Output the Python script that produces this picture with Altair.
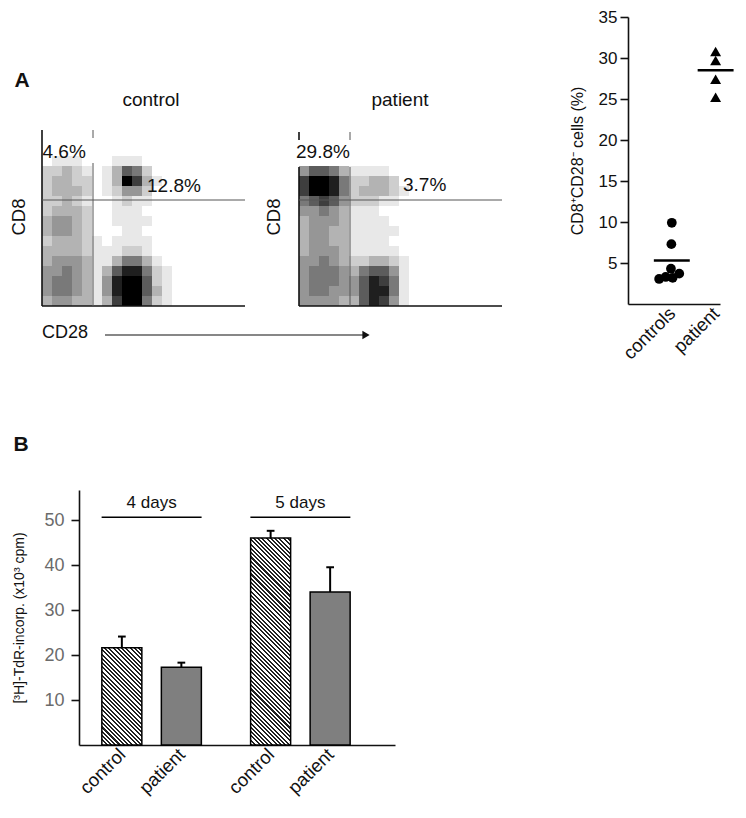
import math
import json
import altair as alt
import pandas as pd

FONT = "Liberation Sans"
INK = "#111111"

# ---------------- Panel A: flow cytometry (density) ----------------
# rows from the top row down to row 0, columns of equal width starting at the CD8 axis
control_density = [
    [0, 1, 1, 1, 0, 0, 0, 1, 1, 1, 0, 0, 0],
    [2, 2, 3, 2, 1, 0, 1, 3, 6, 5, 2, 0, 0],
    [2, 3, 3, 2, 2, 0, 1, 3, 9, 7, 3, 1, 0],
    [2, 3, 3, 3, 2, 0, 1, 2, 4, 4, 2, 0, 0],
    [2, 2, 3, 2, 1, 0, 0, 1, 2, 1, 1, 0, 0],
    [2, 3, 3, 3, 2, 0, 0, 1, 1, 1, 0, 0, 0],
    [3, 4, 4, 3, 2, 0, 0, 1, 1, 1, 1, 0, 0],
    [3, 4, 4, 3, 2, 0, 0, 0, 1, 1, 0, 0, 0],
    [2, 3, 3, 3, 2, 1, 0, 1, 1, 1, 1, 0, 0],
    [3, 3, 3, 3, 2, 1, 1, 1, 2, 2, 1, 0, 0],
    [3, 4, 4, 4, 3, 1, 1, 3, 5, 5, 3, 1, 0],
    [4, 4, 5, 4, 3, 1, 3, 6, 8, 8, 5, 2, 1],
    [4, 5, 5, 4, 3, 1, 4, 8, 9, 9, 6, 2, 1],
    [4, 5, 5, 4, 3, 1, 4, 8, 9, 9, 6, 3, 1],
    [3, 4, 4, 3, 3, 1, 3, 7, 9, 9, 5, 2, 1],
]
patient_density = [
    [4, 6, 6, 5, 3, 1, 1, 1, 1, 0, 0],
    [7, 9, 9, 8, 5, 2, 2, 3, 3, 2, 0],
    [7, 9, 9, 8, 5, 2, 3, 3, 3, 2, 1],
    [5, 6, 7, 6, 4, 2, 2, 2, 1, 1, 0],
    [4, 4, 5, 4, 3, 1, 1, 1, 0, 0, 0],
    [3, 4, 4, 4, 3, 1, 1, 1, 1, 0, 0],
    [3, 4, 4, 3, 3, 1, 1, 1, 1, 1, 0],
    [3, 4, 4, 3, 3, 1, 1, 1, 1, 0, 0],
    [3, 4, 4, 4, 3, 1, 1, 1, 1, 1, 0],
    [4, 4, 5, 4, 3, 2, 2, 3, 3, 2, 1],
    [4, 5, 5, 5, 4, 3, 5, 6, 6, 4, 1],
    [4, 5, 5, 5, 4, 4, 6, 8, 7, 5, 1],
    [4, 5, 5, 4, 4, 4, 6, 8, 8, 5, 1],
    [4, 4, 4, 4, 3, 3, 6, 8, 7, 4, 1],
]
flow_titles = ["control", "patient"]
flow_pct_upper_left = ["4.6%", "29.8%"]
flow_pct_upper_right = ["12.8%", "3.7%"]
gate_cd28 = 5.1
gate_cd8 = 10.6
flow_top = 17.6
flow_right = 20.3

# ---------------- Panel A: summary dot plot ----------------
controls_pct = [9.9, 7.3, 4.3, 3.7, 3.3, 3.2, 3.05]
controls_jitter = [0.0, -0.01, -0.02, 0.17, -0.14, 0.02, -0.29]
patient_pct = [30.8, 29.7, 27.4, 25.2]
group_names = ["controls", "patient"]
group_means = [5.3, 28.5]

# ---------------- Panel B: proliferation ----------------
bar_labels = ["control", "patient", "control", "patient"]
bar_pos = [1.0, 2.0, 3.5, 4.5]
bar_vals = [21.6, 17.3, 46.0, 34.0]
bar_err_top = [24.1, 18.3, 47.6, 39.5]
bar_hatched = [True, False, True, False]
day_labels = ["4 days", "5 days"]
day_centers = [1.5, 4.0]
day_line_y = 50.6
day_text_y = 53.8

# ======================================================================
FLOW_H = 28.9


def density_frame(rows):
    top = len(rows) - 1
    recs = []
    for i, row in enumerate(rows):
        j = top - i
        for c, d in enumerate(row):
            if d > 0:
                recs.append(dict(x=c, x2=c + 1, y=j, y2=j + 1, d=d))
    return pd.DataFrame(recs)


def flow_chart(rows, width_units, segs, texts, extra=None):
    xs = alt.Scale(domain=[0, width_units], nice=False, zero=False)
    ys = alt.Scale(domain=[0, FLOW_H], nice=False, zero=False)
    X = lambda f: alt.X(f, type="quantitative", scale=xs, axis=None)
    Y = lambda f: alt.Y(f, type="quantitative", scale=ys, axis=None)
    dens = alt.Chart(density_frame(rows)).mark_rect(color="black", strokeWidth=0).encode(
        x=X("x"), x2="x2", y=Y("y"), y2="y2",
        opacity=alt.Opacity("d:Q", scale=alt.Scale(type="pow", exponent=1.1, domain=[0, 9], range=[0, 1.0]),
                            legend=None),
    )
    seg_df = pd.DataFrame(segs, columns=["x", "x2", "y", "y2", "w", "c"])
    lines = alt.Chart(seg_df).mark_rule().encode(
        x=X("x"), x2="x2", y=Y("y"), y2="y2",
        strokeWidth=alt.StrokeWidth("w:Q", scale=None),
        color=alt.Color("c:N", scale=None),
    )
    layers = [dens, lines]
    for t in texts:
        df = pd.DataFrame([dict(x=t["x"], y=t["y"], t=t["text"])])
        layers.append(
            alt.Chart(df).mark_text(
                fontSize=t.get("size", 19), align=t.get("align", "center"), baseline="middle",
                angle=t.get("angle", 0), fontWeight=t.get("weight", "normal"), color=INK, font=FONT,
            ).encode(x=X("x"), y=Y("y"), text="t:N")
        )
    if extra:
        layers += extra(X, Y)
    return alt.layer(*layers).properties(width=width_units * 10, height=FLOW_H * 10)


AX = "#111111"
GATE = "#555555"
control_segs = [
    (0, 0, 0, flow_top, 1.6, AX),
    (0, flow_right, 0, 0, 1.6, AX),
    (gate_cd28, gate_cd28, 0, 14.3, 1.0, GATE),
    (gate_cd28, gate_cd28, 16.8, flow_top, 1.0, GATE),
    (0, flow_right, gate_cd8, gate_cd8, 1.0, GATE),
]
patient_segs = [
    (0, 0, 0, 13.9, 1.6, AX),
    (0, 0, 16.6, 17.4, 1.6, AX),
    (0, flow_right, 0, 0, 1.6, AX),
    (gate_cd28, gate_cd28, 0, 13.9, 1.0, GATE),
    (gate_cd28, gate_cd28, 16.6, 17.4, 1.0, GATE),
    (0, flow_right, gate_cd8, gate_cd8, 1.0, GATE),
]


def cd28_arrow(X, Y):
    arrow = pd.DataFrame([dict(x=6.3, x2=32.4, y=-2.9)])
    line = alt.Chart(arrow).mark_rule(color=INK, strokeWidth=1.2).encode(x=X("x"), x2="x2", y=Y("y"))
    head = alt.Chart(arrow).mark_point(shape="triangle-right", filled=True, size=70, color=INK, opacity=1).encode(
        x=X("x2"), y=Y("y"))
    return [line, head]


flowC = flow_chart(
    control_density, 20.3, control_segs,
    [
        dict(x=-2.0, y=22.5, text="A", size=21, weight="bold"),
        dict(x=10.9, y=20.6, text=flow_titles[0]),
        dict(x=0.05, y=15.4, text=flow_pct_upper_left[0], align="left"),
        dict(x=10.5, y=12.0, text=flow_pct_upper_right[0], align="left"),
        dict(x=-2.3, y=8.9, text="CD8", angle=270, size=18.5),
        dict(x=0.0, y=-2.7, text="CD28", align="left", size=18),
    ],
    extra=cd28_arrow,
)
flowP = flow_chart(
    patient_density, 27.5, patient_segs,
    [
        dict(x=10.1, y=20.6, text=flow_titles[1]),
        dict(x=-0.3, y=15.4, text=flow_pct_upper_left[1], align="left"),
        dict(x=10.4, y=12.1, text=flow_pct_upper_right[1], align="left"),
        dict(x=-2.5, y=8.9, text="CD8", angle=270, size=18.5),
    ],
)

# ---------------- dot plot ----------------
dx = alt.Scale(domain=[0, 2.1], nice=False, zero=False)
dy = alt.Scale(domain=[0, 35], nice=False, zero=False)
dot_label_expr = "%s[indexof(%s, datum.value)]" % (json.dumps(group_names), json.dumps([1, 2]))
dot_xaxis = alt.Axis(values=[1, 2], labelExpr=dot_label_expr, ticks=False, grid=False, title=None,
                     labelAngle=-45, labelAlign="right", labelBaseline="middle", labelFontSize=18.5,
                     labelColor=INK, domainColor=INK, domainWidth=1.6, labelOverlap=False,
                     labelFlush=False, labelPadding=6)
dot_yaxis = alt.Axis(values=[5, 10, 15, 20, 25, 30, 35], grid=False, title="CD8⁺CD28⁻ cells (%)",
                     titleFontSize=16, titleFontWeight="normal", titleColor=INK, titlePadding=13,
                     labelFontSize=17, labelColor=INK, tickSize=8, tickColor=INK, tickWidth=1.6,
                     domainColor=INK, domainWidth=1.6, labelPadding=3)
DX = alt.X("x:Q", scale=dx, axis=dot_xaxis)
DY = alt.Y("y:Q", scale=dy, axis=dot_yaxis)

ctrl_df = pd.DataFrame(dict(x=[1 + j for j in controls_jitter], y=controls_pct))
pat_df = pd.DataFrame(dict(x=[2.0] * len(patient_pct), y=patient_pct))
mean_df = pd.DataFrame(dict(x=[1 - 0.41, 2 - 0.41], x2=[1 + 0.41, 2 + 0.41], y=group_means))

dot_ctrl = alt.Chart(ctrl_df).mark_point(shape="circle", filled=True, size=95, color="black", opacity=1).encode(
    x=DX, y=DY)
dot_pat = alt.Chart(pat_df).mark_point(shape="triangle-up", filled=True, size=120, color="black", opacity=1).encode(
    x=DX, y=DY)
dot_mean = alt.Chart(mean_df).mark_rule(color="black", strokeWidth=2.5).encode(x=DX, x2="x2", y=DY)
dot = alt.layer(dot_ctrl, dot_pat, dot_mean).properties(width=92, height=287)

# ---------------- bar chart ----------------
Y_MAX = 56.67
PLOT_H = 255
bx = alt.Scale(domain=[0.28, 5.59], range=[37, 353], nice=False, zero=False)
by = alt.Scale(domain=[0, Y_MAX], nice=False, zero=False)
half = 40 / 59.5 / 2
cap = 0.065

bars_df = pd.DataFrame(dict(p=bar_pos, v=bar_vals, e=bar_err_top, lab=bar_labels, h=bar_hatched))
bars_df["xl"] = bars_df["p"] - half
bars_df["xr"] = bars_df["p"] + half
bars_df["cl"] = bars_df["p"] - cap
bars_df["cr"] = bars_df["p"] + cap
bars_df["base"] = 0.0

bar_label_expr = "%s[indexof(%s, datum.value)]" % (json.dumps(bar_labels), json.dumps(bar_pos))
bar_xaxis = alt.Axis(values=bar_pos, labelExpr=bar_label_expr, ticks=False, grid=False, title=None,
                     labelAngle=-45, labelAlign="right", labelBaseline="middle", labelFontSize=18.5,
                     labelColor=INK, domainColor=INK, domainWidth=1.6, labelOverlap=False,
                     labelFlush=False, labelPadding=6)
bar_yaxis = alt.Axis(values=[10, 20, 30, 40, 50], grid=False, title="[³H]-TdR-incorp. (x10³ cpm)",
                     titleFontSize=14, titleFontWeight="normal", titleColor=INK, titlePadding=17,
                     labelFontSize=18, labelColor="#6b6b6b", tickSize=8, tickColor=INK, tickWidth=1.6,
                     domainColor=INK, domainWidth=1.6, labelPadding=7, offset=-37)


def BX(f):
    return alt.X(f, type="quantitative", scale=bx, axis=bar_xaxis)


def BY(f):
    return alt.Y(f, type="quantitative", scale=by, axis=bar_yaxis)


px_per_unit = PLOT_H / Y_MAX


def hatch_fill(value, w=40.0, period=3.0, dark=0.48):
    h = value * px_per_unit
    n = max(1, round((w + h) / math.sqrt(2) / period))
    k = (w + h) / (w * w + h * h)
    stops = []
    for i in range(n):
        a, b, c = i / n, (i + dark) / n, (i + 1) / n
        stops += [
            alt.GradientStop(offset=a, color="#222222"),
            alt.GradientStop(offset=b, color="#222222"),
            alt.GradientStop(offset=b, color="#ffffff"),
            alt.GradientStop(offset=c, color="#ffffff"),
        ]
    return alt.LinearGradient(gradient="linear", stops=stops, x1=0, y1=1, x2=w * k, y2=1 - h * k)


base = alt.Chart(bars_df)
layers_b = [
    base.transform_filter("!datum.h").mark_bar(fill="#7f7f7f", stroke="black", strokeWidth=1.5).encode(
        x=BX("xl"), x2="xr", y=BY("v"), y2="base"),
]
for i, hatched in enumerate(bar_hatched):
    if hatched:
        layers_b.append(
            alt.Chart(bars_df.iloc[[i]]).mark_bar(fill=hatch_fill(bar_vals[i]), stroke="black", strokeWidth=1.5)
            .encode(x=BX("xl"), x2="xr", y=BY("v"), y2="base"))
layers_b.append(base.mark_rule(color="black", strokeWidth=2).encode(x=BX("p"), y=BY("v"), y2="e"))
layers_b.append(base.mark_rule(color="black", strokeWidth=2).encode(x=BX("cl"), x2="cr", y=BY("e")))

days_df = pd.DataFrame(dict(c=day_centers, t=day_labels))
days_df["l"] = days_df["c"] - 0.84
days_df["r"] = days_df["c"] + 0.84
days_df["ly"] = day_line_y
days_df["ty"] = day_text_y
layers_b.append(alt.Chart(days_df).mark_rule(color="black", strokeWidth=1.5).encode(
    x=BX("l"), x2="r", y=BY("ly")))
layers_b.append(alt.Chart(days_df).mark_text(fontSize=17, color=INK, font=FONT, baseline="middle").encode(
    x=BX("c"), y=BY("ty"), text="t:N"))
b_df = pd.DataFrame([dict(x=-0.695, y=66.7, t="B")])
layers_b.append(alt.Chart(b_df).mark_text(fontSize=21, fontWeight="bold", color=INK, font=FONT,
                                          baseline="middle").encode(x=BX("x"), y=BY("y"), text="t:N"))
# the plot's width is kept equal to the control panel so the grid columns line up;
# the x scale's own range carries the axis out to its full length
bar = alt.layer(*layers_b).properties(width=203, height=PLOT_H)

chart = alt.concat(
    flowC, flowP, dot, bar,
    columns=3,
    spacing={"row": 184, "column": 54},
    bounds="flush",
    align="none",
).properties(
    padding={"left": 2, "top": 0, "right": 0, "bottom": 5},
    background="white",
).configure(font=FONT).configure_view(stroke=None).configure_axis(labelFont=FONT, titleFont=FONT)

chart.save("out.html", embed_options={"renderer": "svg", "actions": False})
